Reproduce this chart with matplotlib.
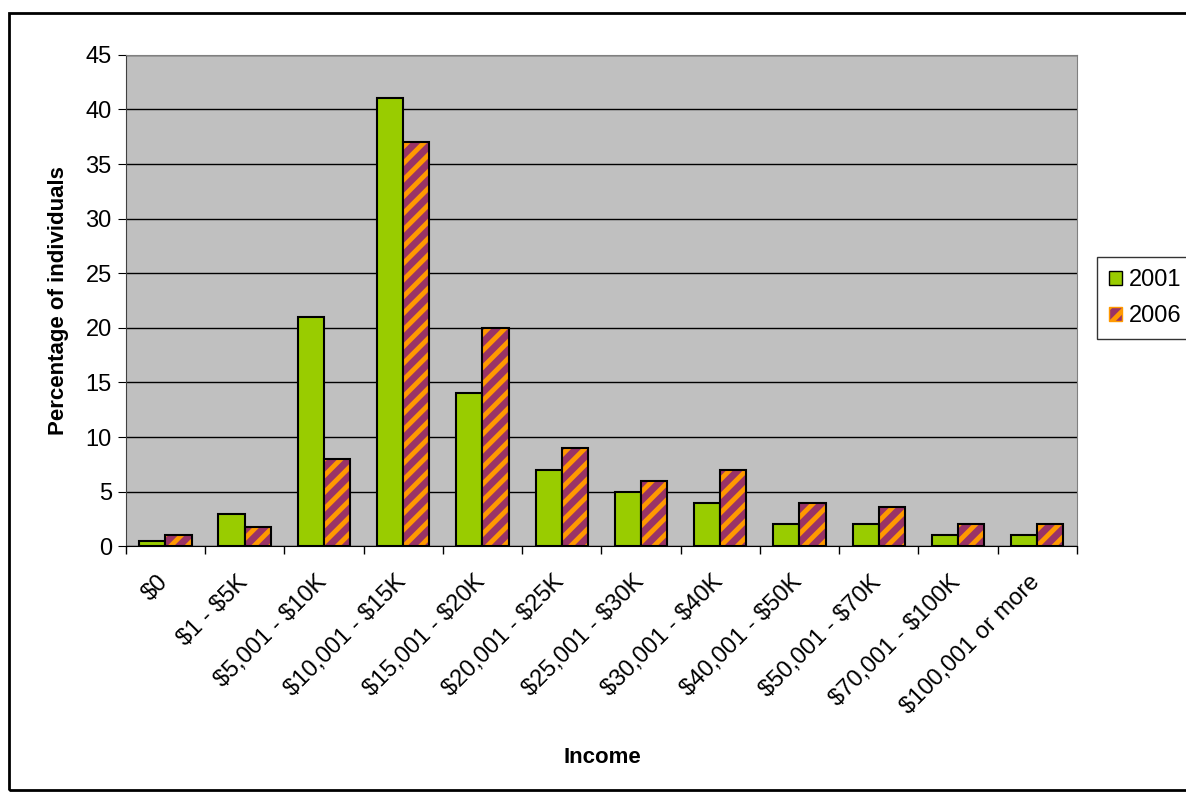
import matplotlib.pyplot as plt
import numpy as np
import matplotlib.transforms as mtransforms
from matplotlib.patches import Rectangle, Patch

plt.rcParams['font.family'] = ['Liberation Sans', 'DejaVu Sans']
plt.rcParams['text.parse_math'] = False
plt.rcParams['hatch.linewidth'] = 3.5

categories = ["$0", "$1 - $5K", "$5,001 - $10K", "$10,001 - $15K", "$15,001 - $20K",
              "$20,001 - $25K", "$25,001 - $30K", "$30,001 - $40K", "$40,001 - $50K",
              "$50,001 - $70K", "$70,001 - $100K", "$100,001 or more"]
values_2001 = [0.5, 3, 21, 41, 14, 7, 5, 4, 2, 2, 1, 1]
values_2006 = [1, 1.75, 8, 37, 20, 9, 6, 7, 4, 3.6, 2, 2]

green = "#99CC00"
purple = "#993366"
orange = "#FF9900"

fig = plt.figure(figsize=(11.86, 7.94), dpi=100)
ax = fig.add_axes([0.106, 0.312, 0.802, 0.619])
ax.set_facecolor("#C0C0C0")

x = np.arange(len(categories))
w = 0.33

ax.bar(x - w / 2, values_2001, w, color=green, edgecolor="black", linewidth=1.5,
       zorder=3)
# striped fill first, then the black outline on top
ax.bar(x + w / 2, values_2006, w, color=purple, edgecolor=orange, hatch="//",
       linewidth=0, zorder=3)
ax.bar(x + w / 2, values_2006, w, fill=False, edgecolor="black", linewidth=1.5, zorder=4)

ax.set_xlim(-0.5, len(categories) - 0.5)
ax.set_ylim(0, 45)
ax.set_yticks(range(0, 46, 5))
ax.yaxis.grid(True, color="black", linewidth=1, zorder=1)
ax.set_axisbelow(True)

ax.set_xticks(x)
ax.set_xticklabels(categories, rotation=45, ha="right", rotation_mode="anchor", fontsize=17)
ax.tick_params(axis="x", which="major", length=0, pad=18)
ax.set_xticks(np.arange(-0.5, len(categories), 1), minor=True)
ax.tick_params(axis="x", which="minor", length=6, width=1)
ax.tick_params(axis="y", labelsize=17, length=6, pad=4)

# nudge the rotated labels a little to the left, like the original
shift = mtransforms.ScaledTranslation(-6 / 72, 0, fig.dpi_scale_trans)
for lbl in ax.get_xticklabels():
    lbl.set_transform(lbl.get_transform() + shift)

for s in ["top", "right"]:
    ax.spines[s].set_color("#808080")
ax.spines["left"].set_color("#404040")
ax.spines["bottom"].set_color("black")

ax.set_ylabel("Percentage of individuals", fontsize=16, fontweight="bold", labelpad=12)
fig.text(0.508, 0.046, "Income", fontsize=16, fontweight="bold", ha="center", va="center")

# legend box on the right
handles = [Patch(facecolor=green, edgecolor="black", label="2001"),
           Patch(facecolor=purple, edgecolor=orange, hatch="//", label="2006")]
leg = fig.legend(handles=handles, loc="upper left", bbox_to_anchor=(0.925, 0.676),
                 fontsize=17, frameon=True, fancybox=False, edgecolor="black",
                 handlelength=0.55, handleheight=0.55, handletextpad=0.3,
                 borderpad=0.5, labelspacing=0.6, borderaxespad=0)
leg.get_frame().set_linewidth(1)

# outer chart border
fig.patches.append(Rectangle((0.008, 0.005), 1.1, 0.978, transform=fig.transFigure,
                             fill=False, edgecolor="black", linewidth=2))

fig.savefig("out.png", dpi=100)
